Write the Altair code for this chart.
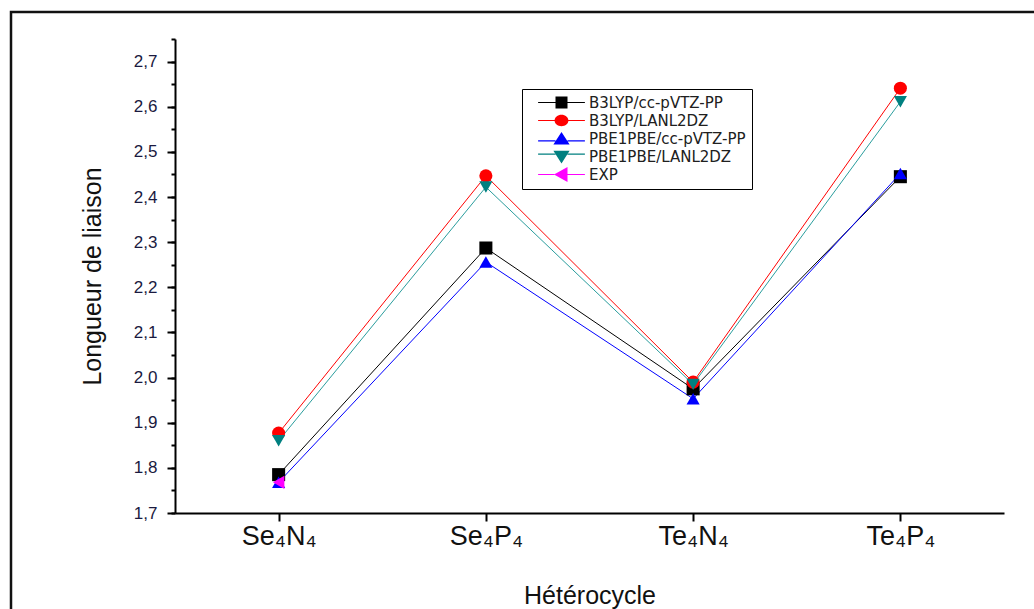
import altair as alt
import pandas as pd

categories = ["Se₄N₄", "Se₄P₄", "Te₄N₄", "Te₄P₄"]
series_names = ["B3LYP/cc-pVTZ-PP", "B3LYP/LANL2DZ", "PBE1PBE/cc-pVTZ-PP", "PBE1PBE/LANL2DZ", "EXP"]
b3lyp_cc = [1.785, 2.287, 1.975, 2.445]
b3lyp_lanl = [1.877, 2.447, 1.990, 2.641]
pbe_cc = [1.768, 2.256, 1.953, 2.452]
pbe_lanl = [1.860, 2.422, 1.985, 2.611]
exp_vals = [1.768]
colors = ["#000000", "#ff0000", "#0000ff", "#008080", "#ff00ff"]
line_colors = ["#000000", "#ff0000", "#0000ff", "#2a9d9d", "#ff00ff"]
shapes = ["square", "circle", "triangle-up", "triangle-down", "triangle-left"]
# legend symbols: marker plus short line segments on each side
legend_paths = [
    "M-3.9,-0.09H-1V0.09H-3.9ZM1,-0.09H3.9V0.09H1ZM-1,-1H1V1H-1Z",
    "M-3.9,-0.09H-1.1V0.09H-3.9ZM1.1,-0.09H3.9V0.09H1.1ZM-1.15,0A1.15,0.95 0 1,1 1.15,0A1.15,0.95 0 1,1 -1.15,0Z",
    "M-3.9,0.31H-1V0.49H-3.9ZM1,0.31H3.9V0.49H1ZM0,-1.1L1.35,1H-1.35Z",
    "M-3.9,-0.49H-1V-0.31H-3.9ZM1,-0.49H3.9V-0.31H1ZM0,1.15L1.35,-0.95H-1.35Z",
    "M-3.9,-0.09H-1.2V0.09H-3.9ZM1,-0.09H3.9V0.09H1ZM-1.25,0L1,-1.25V1.25Z",
]

rows = []
for name, vals in zip(series_names, [b3lyp_cc, b3lyp_lanl, pbe_cc, pbe_lanl, exp_vals]):
    for cat, v in zip(categories, vals):
        rows.append({"cat": cat, "series": name, "value": v})
df = pd.DataFrame(rows)

FONT = "Liberation Sans"

x_enc = alt.X("cat:N", sort=categories, scale=alt.Scale(type="point", padding=0.5),
              axis=alt.Axis(title="Hétérocycle", labelFont=FONT, labelFontSize=27, labelColor="#111",
                            titleFont=FONT, titleFontSize=25, titleFontWeight="normal", titleColor="#111",
                            titlePadding=34, tickSize=8, tickColor="#000", domainColor="#000",
                            domainWidth=2, tickWidth=2, labelPadding=2, grid=False, labelAngle=0))
y_scale = alt.Scale(domain=[1.7, 2.75], nice=False, zero=False)
y_enc = alt.Y("value:Q", scale=y_scale,
              axis=alt.Axis(title="Longueur de liaison", values=[1.7 + i * 0.1 for i in range(11)],
                            labelExpr="replace(format(datum.value, '.1f'), '.', ',')",
                            labelFont=FONT, labelFontSize=17, labelColor="#1a1a40",
                            titleFont=FONT, titleFontSize=25, titleFontWeight="normal", titleColor="#111",
                            titlePadding=28, tickSize=8, tickColor="#000", domainColor="#000",
                            domainWidth=2, tickWidth=2, labelPadding=10, grid=False))
color_enc = alt.Color("series:N", sort=series_names,
                      scale=alt.Scale(domain=series_names, range=line_colors), legend=None)

base = alt.Chart(df)

lines = base.mark_line(strokeWidth=1).encode(x=x_enc, y=y_enc, color=color_enc, detail="series:N")

minor = base.mark_point(opacity=0).encode(
    x=alt.X("cat:N", sort=categories, scale=alt.Scale(type="point", padding=0.5)),
    y=alt.Y("value:Q", scale=y_scale,
            axis=alt.Axis(title=None, orient="left", values=[1.7 + i * 0.05 for i in range(22)],
                          labels=False, tickSize=4, tickWidth=2, tickColor="#000", domain=False, grid=False)),
)

points = base.mark_point(filled=True, opacity=1, strokeWidth=0).encode(
    x=alt.X("cat:N", sort=categories),
    y=alt.Y("value:Q", axis=None),
    fill=alt.Fill("series:N", sort=series_names,
                  scale=alt.Scale(domain=series_names, range=colors), legend=None),
    shape=alt.Shape("series:N", sort=series_names,
                    scale=alt.Scale(domain=series_names, range=shapes), legend=None),
    size=alt.Size("series:N", sort=series_names,
                  scale=alt.Scale(domain=series_names, range=[170, 175, 240, 240, 220]), legend=None),
)

leg = alt.Legend(title=None, orient="none", legendX=347, legendY=50,
                 labelFont="DejaVu Sans", labelFontSize=15, labelColor="#202020",
                 symbolSize=144, symbolStrokeWidth=0, labelOffset=20, symbolOpacity=1,
                 rowPadding=2, padding=6, strokeColor="#000", symbolOffset=26)

legend_layer = base.mark_point(filled=True, size=0, opacity=1, strokeWidth=0).encode(
    x=alt.X("cat:N", sort=categories),
    y=alt.Y("value:Q", axis=None),
    shape=alt.Shape("series:N", sort=series_names,
                    scale=alt.Scale(domain=series_names, range=legend_paths), legend=leg),
    fill=alt.Fill("series:N", sort=series_names,
                  scale=alt.Scale(domain=series_names, range=colors), legend=leg),
)

frame = alt.Chart(alt.Data(values=[{}])).mark_rect(fill=None, stroke="#111", strokeWidth=2.5).encode(
    x=alt.value(-164), x2=alt.value(1100), y=alt.value(-27), y2=alt.value(700)
)

chart = alt.layer(frame, lines, minor, points, legend_layer).resolve_scale(
    shape="independent", fill="independent"
).resolve_axis(y="independent").properties(
    width=829, height=474,
    padding={"left": 175, "top": 39, "right": 30, "bottom": 96},
    autosize=alt.AutoSizeParams(type="none"),
    background="white",
).configure_view(stroke=None)

chart.save("out.html", embed_options={"renderer": "svg", "actions": False})
